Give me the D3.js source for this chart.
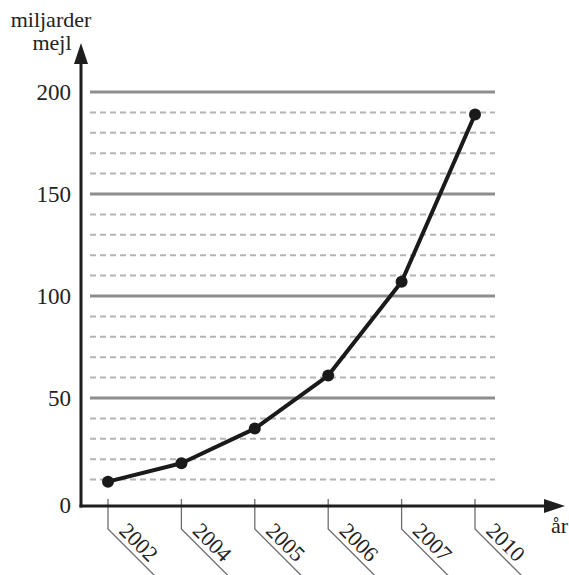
<!DOCTYPE html>
<html>
<head>
<meta charset="utf-8">
<script src="https://cdn.jsdelivr.net/npm/d3@7"></script>
<style>
  html, body { margin: 0; padding: 0; background: #fff; }
  svg { display: block; }
</style>
</head>
<body>
<svg id="chart" width="569" height="575"></svg>
<script>
// ---- data ----
const years = ["2002", "2004", "2005", "2006", "2007", "2010"];
const emails = [9, 18, 35, 61, 107, 189];           // miljarder mejl
const majorTicks = [0, 50, 100, 150, 200];
const minorTicks = [10, 20, 30, 40, 60, 70, 80, 90, 110, 120, 130, 140, 160, 170, 180, 190];
const yTitle = ["miljarder", "mejl"];
const xTitle = "år";

// ---- layout ----
const axisX = 81, axisY = 506;
const gridX0 = 90, gridX1 = 495;
const textColor = "#222";
const serif = '"Liberation Serif"';

const svg = d3.select("#chart");

const y = d3.scaleLinear().domain([0, 200]).range([500, 92]);
const x = d3.scalePoint().domain(years).range([108, 475]);

// minor dashed grid
svg.append("g").selectAll("line").data(minorTicks).join("line")
  .attr("x1", gridX0).attr("x2", gridX1)
  .attr("y1", d => y(d)).attr("y2", d => y(d))
  .attr("stroke", "#b4b4b4").attr("stroke-width", 2)
  .attr("stroke-dasharray", "6,4");

// major solid grid
svg.append("g").selectAll("line").data(majorTicks.filter(d => d > 0)).join("line")
  .attr("x1", gridX0).attr("x2", gridX1)
  .attr("y1", d => y(d)).attr("y2", d => y(d))
  .attr("stroke", "#8e8e8e").attr("stroke-width", 3);

// y tick labels
svg.append("g").selectAll("text").data(majorTicks).join("text")
  .attr("x", 71)
  .attr("y", d => d === 0 ? axisY + 7 : y(d) + 8)
  .attr("text-anchor", "end")
  .attr("font-size", 23)
  .attr("fill", textColor)
  .style("font-family", serif)
  .text(d => d);

// x ticks (vertical + diagonal leader)
const tickTop = 499, tickBend = 529, diag = 48;
const xt = svg.append("g");
xt.selectAll("path").data(years).join("path")
  .attr("d", d => `M${x(d)},${tickTop}V${tickBend}l${diag},${diag}`)
  .attr("fill", "none").attr("stroke", "#6e6e6e").attr("stroke-width", 1.3);
xt.selectAll("text").data(years).join("text")
  .attr("transform", d => `translate(${x(d) + 10},${tickBend + 3}) rotate(45)`)
  .attr("font-size", 22)
  .attr("fill", textColor)
  .style("font-family", serif)
  .text(d => d);

// axes
svg.append("line").attr("x1", axisX).attr("x2", axisX).attr("y1", axisY + 1.5).attr("y2", 60)
  .attr("stroke", "#1e1e1e").attr("stroke-width", 3);
svg.append("path").attr("d", `M${axisX},43 L${axisX - 7},64 L${axisX + 7},64 Z`).attr("fill", "#1e1e1e");
svg.append("line").attr("x1", axisX - 1.5).attr("x2", 548).attr("y1", axisY).attr("y2", axisY)
  .attr("stroke", "#1e1e1e").attr("stroke-width", 3);
svg.append("path").attr("d", `M565,${axisY} L544,${axisY - 7} L544,${axisY + 7} Z`).attr("fill", "#1e1e1e");

// axis titles
svg.append("text").attr("x", 51).attr("y", 27).attr("text-anchor", "middle")
  .attr("font-size", 22).attr("fill", textColor).style("font-family", serif).text(yTitle[0]);
svg.append("text").attr("x", 52).attr("y", 50).attr("text-anchor", "middle")
  .attr("font-size", 22).attr("fill", textColor).style("font-family", serif).text(yTitle[1]);
svg.append("text").attr("x", 551).attr("y", 533).attr("font-size", 22)
  .attr("fill", textColor).style("font-family", serif).text(xTitle);

// data line
const pts = years.map((yr, i) => ({ yr, v: emails[i] }));
svg.append("path").datum(pts)
  .attr("d", d3.line().x(d => x(d.yr)).y(d => y(d.v)))
  .attr("fill", "none").attr("stroke", "#1a1a1a").attr("stroke-width", 4)
  .attr("stroke-linejoin", "round");
svg.append("g").selectAll("circle").data(pts).join("circle")
  .attr("cx", d => x(d.yr)).attr("cy", d => y(d.v)).attr("r", 6)
  .attr("fill", "#1a1a1a");
</script>
</body>
</html>
